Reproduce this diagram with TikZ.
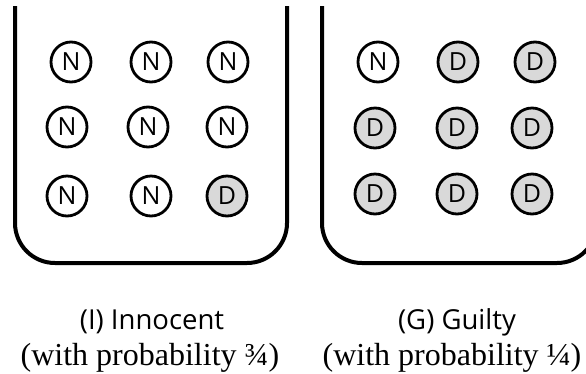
\documentclass[tikz,border=0pt]{standalone}
\usepackage{fontspec}
\setmainfont{Liberation Serif}
\newfontfamily\labelsans{Open Sans}
\definecolor{dgray}{HTML}{D9D9D9}
\tikzset{
  urn/.style={line width=4pt, rounded corners=40pt},
  ball/.style={circle, draw, line width=2.8pt, minimum size=40pt, inner sep=0pt,
    font=\labelsans\fontsize{25}{25}\selectfont},
  nball/.style={ball, fill=white},
  dball/.style={ball, fill=dgray},
  title/.style={anchor=base, inner sep=0pt, font=\labelsans\fontsize{27.5}{30}\selectfont},
  prob/.style={anchor=base, inner sep=0pt, font=\fontsize{32}{34}\selectfont}
}
\begin{document}
\begin{tikzpicture}[x=1pt,y=-1pt]
\useasboundingbox (0,0) rectangle (586,373);
\begin{scope}
\clip (0,0) rectangle (586,373);
\coordinate (la) at (15,6);
\coordinate (lb) at (15,263);
\coordinate (lc) at (287,263);
\coordinate (ld) at (287,6);
\draw[urn] (la) -- (lb) -- (lc) -- (ld);
\coordinate (ra) at (322,6);
\coordinate (rb) at (322,263);
\coordinate (rc) at (597,263);
\coordinate (rd) at (597,6);
\draw[urn] (ra) -- (rb) -- (rc) -- (rd);
\end{scope}
% left urn
\node[nball] (l11) at (71,62) {N};
\node[nball] (l12) at (151,62) {N};
\node[nball] (l13) at (228,62) {N};
\node[nball] (l21) at (67,127) {N};
\node[nball] (l22) at (148,127) {N};
\node[nball] (l23) at (227,127) {N};
\node[nball] (l31) at (67,196) {N};
\node[nball] (l32) at (151,196) {N};
\node[dball] (l33) at (227,196) {D};
% right urn
\node[nball] (r11) at (378,62) {N};
\node[dball] (r12) at (458,62) {D};
\node[dball] (r13) at (535,62) {D};
\node[dball] (r21) at (375,128) {D};
\node[dball] (r22) at (457,128) {D};
\node[dball] (r23) at (532,128) {D};
\node[dball] (r31) at (375,194) {D};
\node[dball] (r32) at (457,194) {D};
\node[dball] (r33) at (532,194) {D};
% captions
\node[title] (ltitle) at (152,329) {(I) Innocent};
\node[prob] (lprob) at (150,365) {(with probability ¾)};
\node[title] (rtitle) at (457,329) {(G) Guilty};
\node[prob] (rprob) at (452,365) {(with probability ¼)};
\end{tikzpicture}
\end{document}
